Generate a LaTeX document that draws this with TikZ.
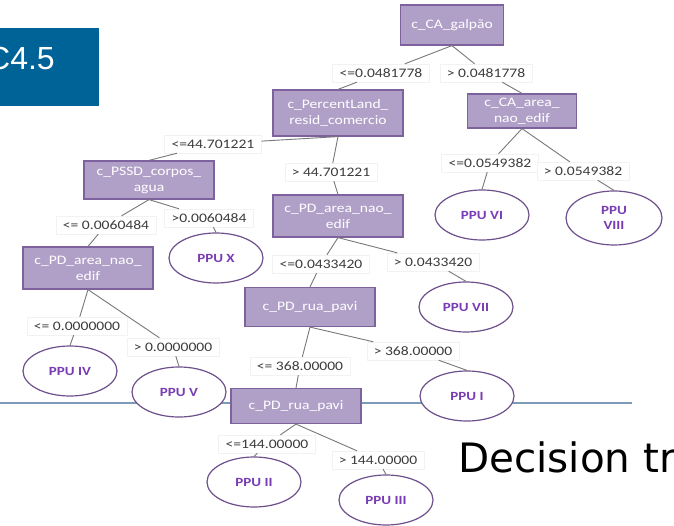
\documentclass[tikz,border=0pt]{standalone}
\usepackage{fontspec}
\usetikzlibrary{shapes.geometric}
\newfontfamily\labfont[FakeStretch=1.2]{Carlito}
\newfontfamily\bigfont{DejaVu Sans}
\newfontfamily\arialfont{Liberation Sans}
\definecolor{c45blue}{RGB}{0,99,152}
\definecolor{boxfill}{RGB}{176,160,200}
\definecolor{boxline}{RGB}{125,98,158}
\definecolor{leafline}{RGB}{110,80,140}
\definecolor{leaftext}{RGB}{120,60,180}
\definecolor{edgecol}{RGB}{120,120,120}
\definecolor{labline}{RGB}{242,242,242}
\definecolor{labtext}{RGB}{60,60,60}
\definecolor{hlinecol}{RGB}{125,155,185}
\begin{document}
\begin{tikzpicture}[x=1pt,y=-1pt,
  tbox/.style={rectangle, draw=boxline, fill=boxfill, line width=1.2pt, text=white,
    font=\labfont\fontsize{13}{16}\selectfont, align=center, inner sep=2pt},
  leaf/.style={ellipse, draw=leafline, fill=white, line width=1.2pt, minimum width=94pt,
    minimum height=50pt, inner sep=0pt, text=leaftext,
    font=\labfont\bfseries\fontsize{12.5}{15}\selectfont, align=center},
  lab/.style={rectangle, fill=white, draw=labline, line width=0.4pt, inner xsep=7pt,
    minimum height=18pt, text=labtext, font=\labfont\fontsize{13}{15}\selectfont},
  edge/.style={draw=edgecol, line width=0.9pt},
  hline/.style={draw=hlinecol, line width=1.8pt}]
\useasboundingbox (0,0) rectangle (674,526);
\clip (0,0) rectangle (674,526);
\fill[white] (0,0) rectangle (674,526);

% title box
\node[fill=c45blue, minimum width=99pt, minimum height=78pt, inner sep=0pt] (c45box) at (49.5,67) {};
\node[anchor=base east, inner sep=0pt, text=white, font=\arialfont\fontsize{32}{36}\selectfont] (c45) at (55,70) {C4.5};

% horizontal rule
\coordinate (hl) at (0,403);
\coordinate (hr) at (632,403);
\draw[hline] (hl) -- (hr);

\node[anchor=base west, inner sep=0pt, font=\bigfont\fontsize{40.5}{46}\selectfont] (dt) at (458,472) {Decision tr};

% decision nodes
\node[tbox, minimum width=103pt, minimum height=40pt] (galpao) at (452,25) {c\_CA\_galpão};
\node[tbox, minimum width=130pt, minimum height=46pt] (perc) at (338,113) {c\_PercentLand\_\\resid\_comercio};
\node[tbox, minimum width=109pt, minimum height=34pt] (caarea) at (522,111) {c\_CA\_area\_\\nao\_edif};
\node[tbox, minimum width=130pt, minimum height=38pt] (pssd) at (149,180) {c\_PSSD\_corpos\_\\agua};
\node[tbox, minimum width=130pt, minimum height=42pt] (pdmid) at (338,216) {c\_PD\_area\_nao\_\\edif};
\node[tbox, minimum width=130pt, minimum height=42pt] (pdleft) at (88,268) {c\_PD\_area\_nao\_\\edif};
\node[tbox, minimum width=130pt, minimum height=39pt] (ruaup) at (310,307) {c\_PD\_rua\_pavi};
\node[tbox, minimum width=130pt, minimum height=35pt] (rualow) at (296,406) {c\_PD\_rua\_pavi};

% leaves
\node[leaf] (ppu6) at (482,215) {PPU VI};
\node[leaf, minimum width=96pt, minimum height=54pt] (ppu8) at (614,218) {PPU\\VIII};
\node[leaf] (ppux) at (216,258) {PPU X};
\node[leaf] (ppu7) at (466,307) {PPU VII};
\node[leaf] (ppu4) at (70,371) {PPU IV};
\node[leaf] (ppu5) at (179,392) {PPU V};
\node[leaf] (ppu1) at (467,396) {PPU I};
\node[leaf] (ppu2) at (254,482) {PPU II};
\node[leaf] (ppu3) at (386,500) {PPU III};

% labels
\node[lab] (l1) at (381,73) {<=0.0481778};
\node[lab] (l2) at (486,73) {> 0.0481778};
\node[lab] (l3) at (213,144) {<=44.701221};
\node[lab] (l4) at (331,172) {> 44.701221};
\node[lab] (l5) at (490,163) {<=0.0549382};
\node[lab] (l6) at (583,171) {> 0.0549382};
\node[lab] (l7) at (106,225) {<= 0.0060484};
\node[lab] (l8) at (209,218) {>0.0060484};
\node[lab] (l9) at (321,264) {<=0.0433420};
\node[lab] (l10) at (433,262) {> 0.0433420};
\node[lab] (l11) at (77,326) {<= 0.0000000};
\node[lab] (l12) at (173,347) {> 0.0000000};
\node[lab] (l13) at (300,366) {<= 368.00000};
\node[lab] (l14) at (413,351) {> 368.00000};
\node[lab] (l15) at (267,444) {<=144.00000};
\node[lab] (l16) at (378,460) {> 144.00000};

% edges
\draw[edge] (galpao.south) -- (l1); \draw[edge] (l1) -- (perc.north);
\draw[edge] (galpao.south) -- (l2); \draw[edge] (l2) -- (caarea.north);
\draw[edge] (perc.south) -- (l3); \draw[edge] (l3) -- (pssd.north);
\draw[edge] (perc.south) -- (l4); \draw[edge] (l4) -- (pdmid.north);
\draw[edge] (caarea.south) -- (l5); \draw[edge] (l5) -- (ppu6.north);
\draw[edge] (caarea.south) -- (l6); \draw[edge] (l6) -- (ppu8.north);
\draw[edge] (pssd.south) -- (l7); \draw[edge] (l7) -- (pdleft.north);
\draw[edge] (pssd.south) -- (l8); \draw[edge] (l8) -- (ppux.north);
\draw[edge] (pdmid.south) -- (l9); \draw[edge] (l9) -- (ruaup.north);
\draw[edge] (pdmid.south) -- (l10); \draw[edge] (l10) -- (ppu7.north);
\draw[edge] (pdleft.south) -- (l11); \draw[edge] (l11) -- (ppu4.north);
\draw[edge] (pdleft.south) -- (l12); \draw[edge] (l12) -- (ppu5.north);
\draw[edge] (ruaup.south) -- (l13); \draw[edge] (l13) -- (rualow.north);
\draw[edge] (ruaup.south) -- (l14); \draw[edge] (l14) -- (ppu1.north);
\draw[edge] (rualow.south) -- (l15); \draw[edge] (l15) -- (ppu2.north);
\draw[edge] (rualow.south) -- (l16); \draw[edge] (l16) -- (ppu3.north);
\end{tikzpicture}
\end{document}
